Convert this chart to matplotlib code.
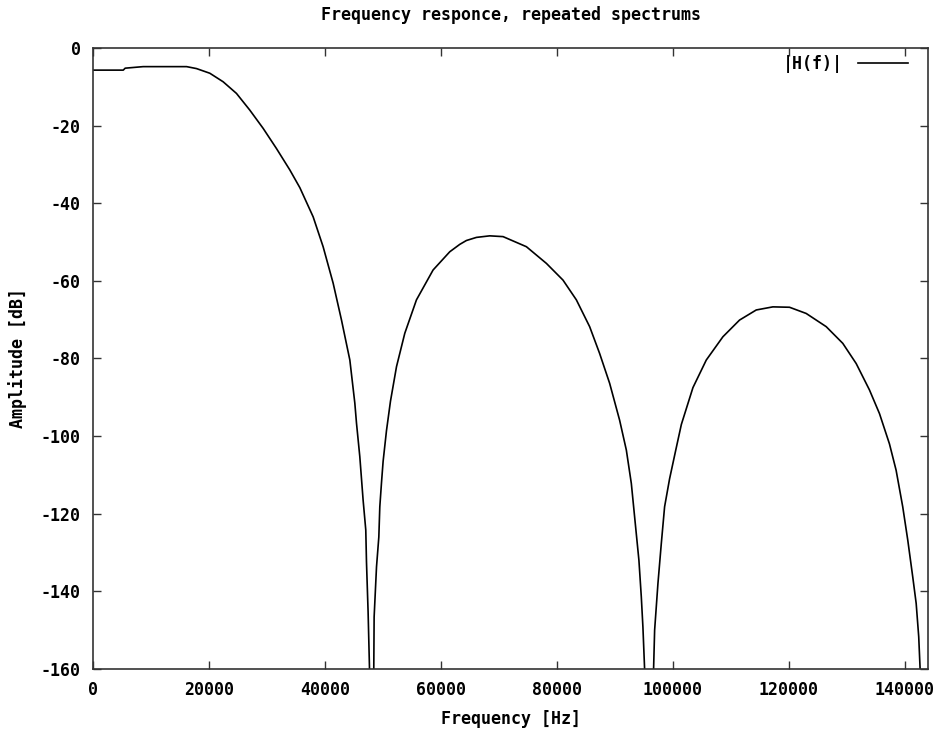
import numpy as np
import matplotlib.pyplot as plt

# values (Hz, dB)
freq_hz = [
    0, 5170, 5500, 8600, 16100, 17800, 20100, 22400, 24700, 27000,
    29300, 31600, 33900, 35640, 37930, 39650, 41380, 42820, 44260, 45120,
    45410, 45980, 46550, 47010, 47130, 47410, 47900,
    48390, 48450, 48860, 49260, 49430, 49720, 50000, 50580, 51270, 52310,
    53740, 55750, 58620, 61500, 63220, 64370, 66100, 68390, 70690, 74720,
    78170, 81030, 83340, 85630, 87350, 89080, 90800, 91960, 92820, 93560,
    94130, 94540, 94820, 95110, 95900,
    96660, 96840, 97410, 97990, 98560, 99420, 100500, 101450, 103450, 105750,
    108620, 111490, 114370, 117240, 120110, 122990, 126440, 129300, 131610, 133900,
    135630, 137350, 138500, 139640, 140510, 141370, 141960, 142400, 142640, 144000,
]
amp_db = [
    -5.7, -5.7, -5.2, -4.8, -4.8, -5.3, -6.5, -8.7, -11.7, -16.0,
    -20.7, -25.9, -31.4, -36.0, -43.5, -51.2, -60.6, -70.1, -80.4, -91.5,
    -96.7, -105.3, -116.5, -124.2, -132.4, -145.3, -175.0,
    -160.0, -146.6, -133.7, -126.0, -118.2, -112.0, -106.5, -98.6, -91.0, -82.1,
    -73.5, -64.9, -57.2, -52.5, -50.6, -49.6, -48.8, -48.4, -48.6, -51.2,
    -55.5, -59.8, -64.9, -71.8, -78.7, -86.4, -95.9, -103.6, -112.2, -123.4,
    -132.0, -141.4, -149.2, -160.0, -175.0,
    -160.0, -150.0, -138.0, -127.7, -118.2, -111.0, -103.5, -97.0, -87.5, -80.4,
    -74.4, -70.1, -67.5, -66.7, -66.8, -68.4, -71.8, -76.1, -81.3, -88.1,
    -94.2, -102.0, -108.8, -118.2, -126.8, -136.3, -143.1, -151.7, -160.0, -175.0,
]

x_ticks = np.arange(0, 140001, 20000)
y_ticks = np.arange(-160, 1, 20)

fsz = 12
font = {'family': 'DejaVu Sans Mono', 'weight': 'bold', 'size': fsz}
plt.rcParams['font.family'] = 'DejaVu Sans Mono'
plt.rcParams['font.weight'] = 'bold'

fig = plt.figure(figsize=(9.48, 7.34), dpi=100)
ax = fig.add_axes([0.0984, 0.0886, 0.8805, 0.8460])

ax.plot(freq_hz, amp_db, color='black', lw=1.2, label='|H(f)|')

ax.set_xlim(0, 144000)
ax.set_ylim(-160, 0)
ax.set_xticks(x_ticks)
ax.set_yticks(y_ticks)
ax.set_xticklabels([str(v) for v in x_ticks], **font)
ax.set_yticklabels([str(v) for v in y_ticks], **font)
ax.tick_params(direction='in', length=6, width=1, top=True, right=True,
               color='#333333', pad=9)

for s in ax.spines.values():
    s.set_color('#333333')
    s.set_linewidth(1.2)

ax.set_xlabel('Frequency [Hz]', labelpad=7.5, **font)
ax.set_ylabel('Amplitude [dB]', labelpad=10, **font)
ax.set_title('Frequency responce, repeated spectrums', pad=20, **font)

ax.legend(loc='upper right', bbox_to_anchor=(0.984, 1.0), borderaxespad=0,
          markerfirst=False, frameon=False, handlelength=3.0, handletextpad=0.9,
          prop=font)

fig.savefig('out.png', dpi=100)
